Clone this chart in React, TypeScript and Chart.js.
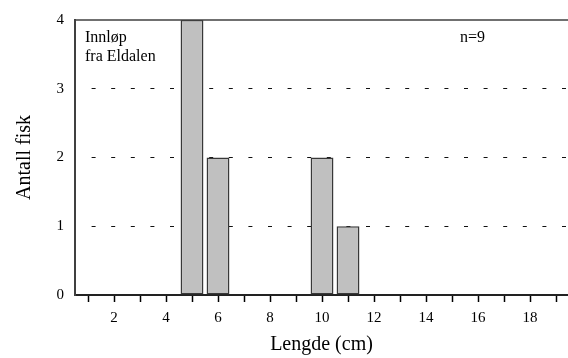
import React, { useEffect, useRef } from "react";
import { Chart, registerables } from "chart.js";

Chart.register(...registerables);

const lengths = [1, 2, 3, 4, 5, 6, 7, 8, 9, 10, 11, 12, 13, 14, 15, 16, 17, 18, 19];
const counts = [0, 0, 0, 0, 4, 2, 0, 0, 0, 2, 1, 0, 0, 0, 0, 0, 0, 0, 0];
const yTicks = [0, 1, 2, 3, 4];
const xTickMarks = lengths;
const xLabelled = [2, 4, 6, 8, 10, 12, 14, 16, 18];
const locationLines = ["Innløp", "fra Eldalen"];
const sampleLabel = "n=9";
const xTitle = "Lengde (cm)";
const yTitle = "Antall fisk";

const SERIF = "'Liberation Serif', 'Times New Roman', serif";

const textPlugin = {
  id: "annot",
  afterDraw(chart: any) {
    const { ctx, chartArea } = chart;
    ctx.save();
    ctx.fillStyle = "#000";
    ctx.font = `16px ${SERIF}`;
    ctx.textBaseline = "alphabetic";
    ctx.textAlign = "left";
    locationLines.forEach((t, i) => {
      ctx.fillText(t, chartArea.left + 10, chartArea.top + 22 + i * 19);
    });
    ctx.fillText(sampleLabel, 460, chartArea.top + 22);
    // top frame line
    ctx.strokeStyle = "#404040";
    ctx.lineWidth = 1.5;
    ctx.beginPath();
    ctx.moveTo(chartArea.left, chartArea.top);
    ctx.lineTo(chartArea.right, chartArea.top);
    ctx.stroke();
    ctx.restore();
  },
};

export default function App() {
  const ref = useRef<HTMLCanvasElement>(null);
  useEffect(() => {
    if (!ref.current) return;
    const chart = new Chart(ref.current, {
      type: "bar",
      data: {
        datasets: [
          {
            data: lengths.map((x, i) => ({ x, y: counts[i] })),
            backgroundColor: "#c0c0c0",
            borderColor: "#383838",
            borderWidth: 1.5,
            borderSkipped: false,
            barPercentage: 0.88,
            categoryPercentage: 1,
          },
        ],
      },
      plugins: [textPlugin],
      options: {
        animation: false,
        responsive: true,
        maintainAspectRatio: false,
        layout: { padding: { top: 18, right: 0, bottom: 0, left: 0 } },
        plugins: { legend: { display: false }, tooltip: { enabled: false } },
        scales: {
          x: {
            type: "linear",
            min: 0.5,
            max: 19.46,
            offset: false,
            afterBuildTicks: (scale: any) => {
              scale.ticks = xTickMarks.map((v) => ({ value: v }));
            },
            afterFit: (scale: any) => {
              scale.height = 63;
            },
            ticks: {
              autoSkip: false,
              maxRotation: 0,
              padding: 7,
              color: "#000",
              font: { family: SERIF, size: 15 },
              callback: (v: any) => (xLabelled.includes(Number(v)) ? String(v) : ""),
            },
            grid: {
              offset: false,
              drawOnChartArea: false,
              drawTicks: true,
              tickLength: 7,
              tickColor: "#000",
              tickWidth: 1.5,
            },
            border: { display: true, color: "#222", width: 2 },
            title: {
              display: true,
              text: xTitle,
              color: "#000",
              font: { family: SERIF, size: 20 },
              padding: { top: 0, bottom: 1 },
            },
          },
          y: {
            min: 0,
            max: 4,
            afterBuildTicks: (scale: any) => {
              scale.ticks = yTicks.map((v) => ({ value: v }));
            },
            afterFit: (scale: any) => {
              scale.width = 75;
            },
            ticks: {
              padding: 11,
              color: "#000",
              font: { family: SERIF, size: 15 },
            },
            grid: {
              drawTicks: false,
              color: (c: any) =>
                c.tick && c.tick.value > 0 && c.tick.value < 4 ? "#111" : "rgba(0,0,0,0)",
              lineWidth: 1,
            },
            border: {
              display: true,
              color: "#404040",
              width: 2,
              dash: [4, 15.6],
              dashOffset: 4,
            },
            title: {
              display: true,
              text: yTitle,
              color: "#000",
              font: { family: SERIF, size: 20 },
              padding: { top: 13, bottom: 0 },
            },
          },
        },
      },
    } as any);
    return () => chart.destroy();
  }, []);
  return (
    <div style={{ position: "fixed", left: 0, top: 0, width: 568, height: 358, background: "#fff" }}>
      <canvas ref={ref} />
    </div>
  );
}
